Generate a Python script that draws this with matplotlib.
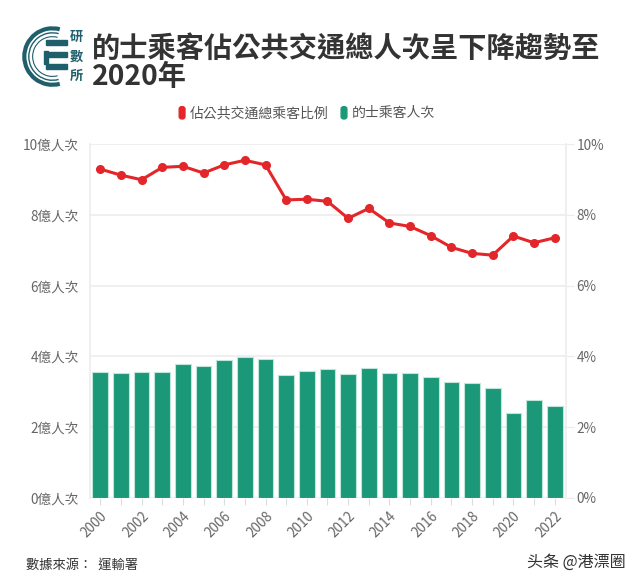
import numpy as np
import matplotlib.pyplot as plt
from matplotlib.patches import FancyBboxPatch, Arc, Rectangle

plt.rcParams['font.family'] = ['Noto Sans CJK TC', 'DejaVu Sans']

# data
years = list(range(2000, 2023))
riders = [3.57, 3.54, 3.57, 3.55, 3.78, 3.74, 3.89, 3.99, 3.92, 3.48, 3.58, 3.64,
          3.50, 3.68, 3.54, 3.52, 3.41, 3.28, 3.24, 3.11, 2.41, 2.78, 2.59]  # 億人次
share = [9.29, 9.12, 8.99, 9.34, 9.37, 9.18, 9.41, 9.54, 9.41, 8.42, 8.44, 8.38,
         7.90, 8.18, 7.77, 7.67, 7.41, 7.08, 6.91, 6.86, 7.40, 7.21, 7.35]  # %
left_ticks = [0, 2, 4, 6, 8, 10]
left_labels = [f'{v}億人次' for v in left_ticks]
right_labels = [f'{v}%' for v in left_ticks]

green = '#1a9878'
red = '#e3262a'
grid_c = '#ececec'
tick_c = '#666666'

fig = plt.figure(figsize=(6.4, 5.83), dpi=100)
ax = fig.add_axes([0.1406, 0.1458, 0.7438, 0.6072])
ax2 = ax.twinx()

x = np.arange(len(years))
ax.bar(x, riders, width=0.76, color=green, edgecolor='#bfe6da', linewidth=0.8, zorder=2)
ax2.plot(x, share, color=red, lw=2.2, marker='o', ms=5.5, zorder=3)

ax.set_xlim(-0.5, 22.55)
ax.set_ylim(0, 10)
ax2.set_ylim(0, 10)
ax.set_yticks(left_ticks)
ax.set_yticklabels(left_labels)
ax2.set_yticks(left_ticks)
ax2.set_yticklabels(right_labels)
ax.set_xticks(x)
ax.set_xticklabels([str(y) if y % 2 == 0 else '' for y in years], rotation=45,
                   ha='right', rotation_mode='anchor')
ax.grid(axis='y', color=grid_c, lw=1.2, zorder=0)
ax.set_axisbelow(True)

for a in (ax, ax2):
    for s in a.spines.values():
        s.set_visible(False)
    a.tick_params(colors=tick_c, labelsize=9.8)
ax.spines['left'].set_visible(True)
ax.spines['left'].set_color(grid_c)
ax.spines['left'].set_linewidth(1.2)
ax2.spines['right'].set_visible(True)
ax2.spines['right'].set_color(grid_c)
ax2.spines['right'].set_linewidth(1.2)
ax.tick_params(axis='y', length=0, pad=8)
ax2.tick_params(axis='y', length=6, color=grid_c, pad=1.5)
ax.tick_params(axis='x', length=5, color='#dddddd', pad=3)

# title
fig.text(0.143, 0.94, '的士乘客佔公共交通總人次呈下降趨勢至\n2020年', fontsize=20.3,
         fontweight='bold', color='#333333', va='top', linespacing=0.98)

# logo
lax = fig.add_axes([0.034, 0.848, 0.1, 0.11])
lax.set_xlim(0, 1)
lax.set_ylim(0, 1)
lax.axis('off')
teal = '#1f5f6b'
for r, lw in [(0.44, 3.0), (0.37, 1.0), (0.31, 0.8)]:
    lax.add_patch(Arc((0.48, 0.5), 2 * r, 2 * r, theta1=75, theta2=285, color=teal, lw=lw))
for yy in [0.68, 0.49, 0.30]:
    lax.add_patch(Rectangle((0.38, yy), 0.33, 0.08, color=teal))
lax.add_patch(Rectangle((0.34, 0.38), 0.07, 0.2, color=teal))
for i, ch in enumerate('研數所'):
    lax.text(0.86, 0.8 - i * 0.3, ch, fontsize=9.5, fontweight='bold', color=teal,
             ha='center', va='center')

# legend
leg_items = [(0.28, red, '佔公共交通總乘客比例'), (0.533, green, '的士乘客人次')]
for xx, c, t in leg_items:
    fig.patches.append(FancyBboxPatch((xx, 0.796), 0.009, 0.021,
                                      boxstyle='round,pad=0,rounding_size=0.004',
                                      transform=fig.transFigure, color=c))
    fig.text(xx + 0.016, 0.806, t, fontsize=10, color='#555555', va='center')

fig.text(0.04, 0.03, '數據來源：  運輸署', fontsize=9.5, color='#333333', va='center')
fig.text(0.978, 0.035, '头条 @港漂圈', fontsize=11.5, color='#333333', va='center', ha='right')

fig.savefig('out.png', dpi=100)
